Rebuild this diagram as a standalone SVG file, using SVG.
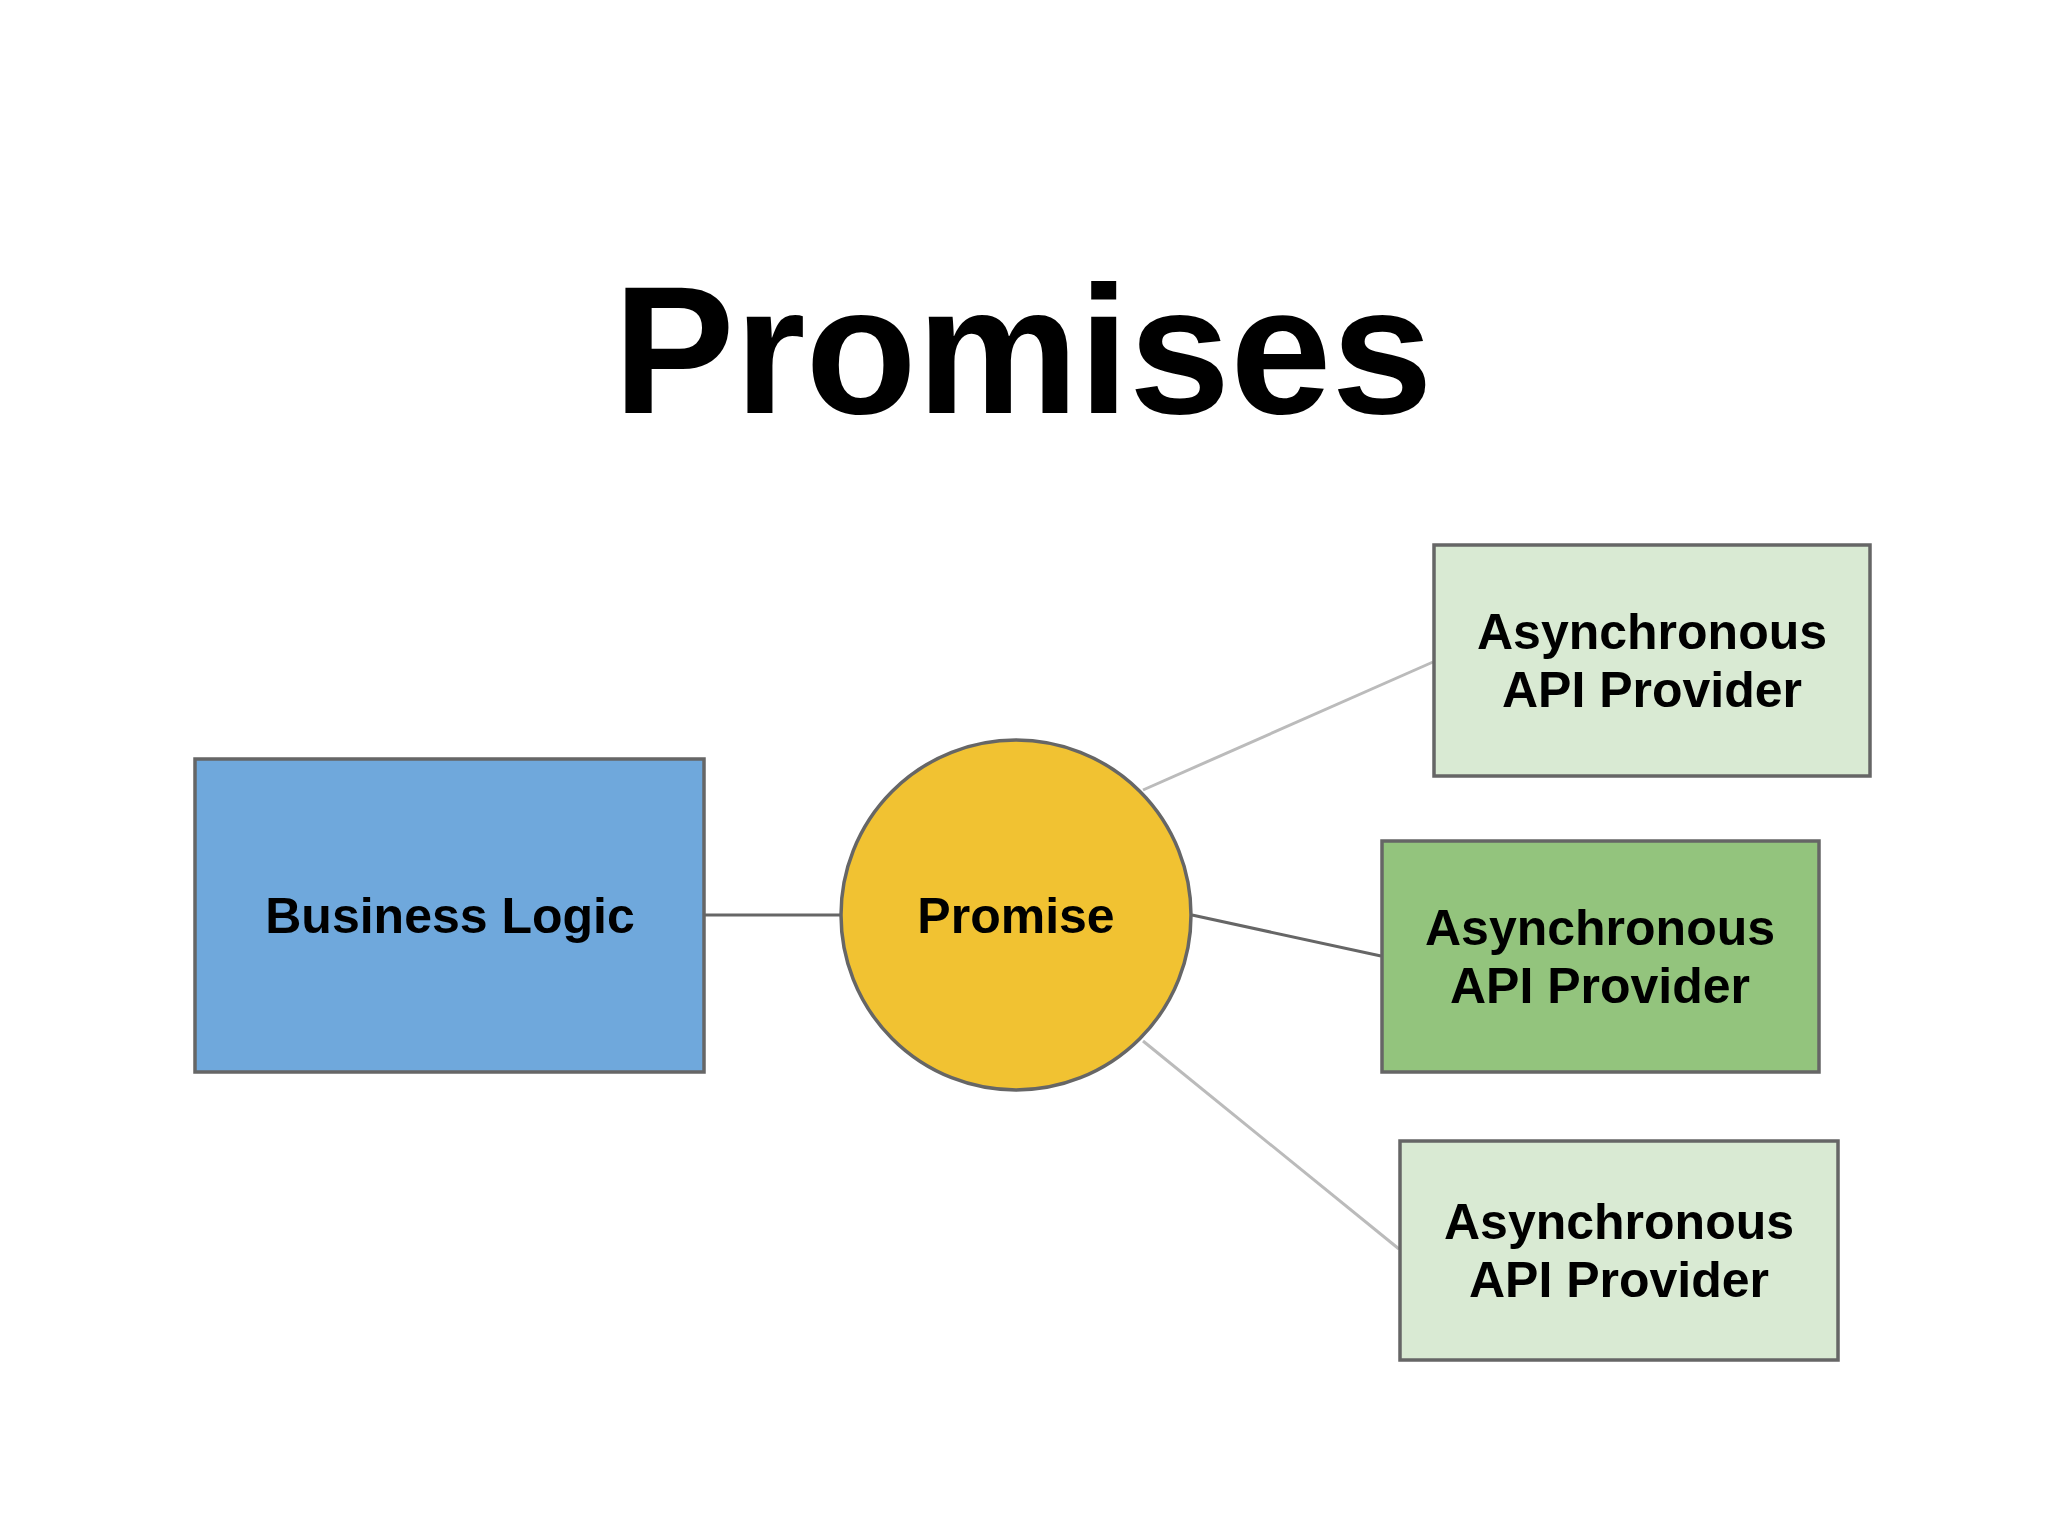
<svg xmlns="http://www.w3.org/2000/svg" width="2048" height="1536" viewBox="0 0 2048 1536">
<style>
text{font-family:"Liberation Sans",Arial,sans-serif;font-weight:bold;fill:#000;text-anchor:middle}
.n{stroke:#666;stroke-width:3.5}
.lbl{font-size:50px}
</style>
<rect width="2048" height="1536" fill="#fff"/>
<text x="1023" y="413" style="font-size:182px">Promises</text>
<g id="connectors" fill="none" stroke-width="3">
<line x1="704" y1="915" x2="840" y2="915" stroke="#666"/>
<line x1="1143" y1="790" x2="1433" y2="662" stroke="#bbb"/>
<line x1="1192" y1="915" x2="1381" y2="956" stroke="#666"/>
<line x1="1143" y1="1041" x2="1399" y2="1249" stroke="#bbb"/>
</g>
<g id="business"><rect class="n" x="195" y="759" width="509" height="313" fill="#6fa8dc"/><text class="lbl" x="450" y="933">Business Logic</text></g>
<g id="promise"><circle class="n" cx="1016" cy="915" r="175" fill="#f1c232"/><text class="lbl" x="1016" y="933">Promise</text></g>
<g id="api1"><rect class="n" x="1434" y="545" width="436" height="231" fill="#d9ead3"/><text class="lbl" x="1652" y="649">Asynchronous</text><text class="lbl" x="1652" y="707">API Provider</text></g>
<g id="api2"><rect class="n" x="1382" y="841" width="437" height="231" fill="#93c47d"/><text class="lbl" x="1600" y="945">Asynchronous</text><text class="lbl" x="1600" y="1003">API Provider</text></g>
<g id="api3"><rect class="n" x="1400" y="1141" width="438" height="219" fill="#d9ead3"/><text class="lbl" x="1619" y="1239">Asynchronous</text><text class="lbl" x="1619" y="1297">API Provider</text></g>
</svg>
